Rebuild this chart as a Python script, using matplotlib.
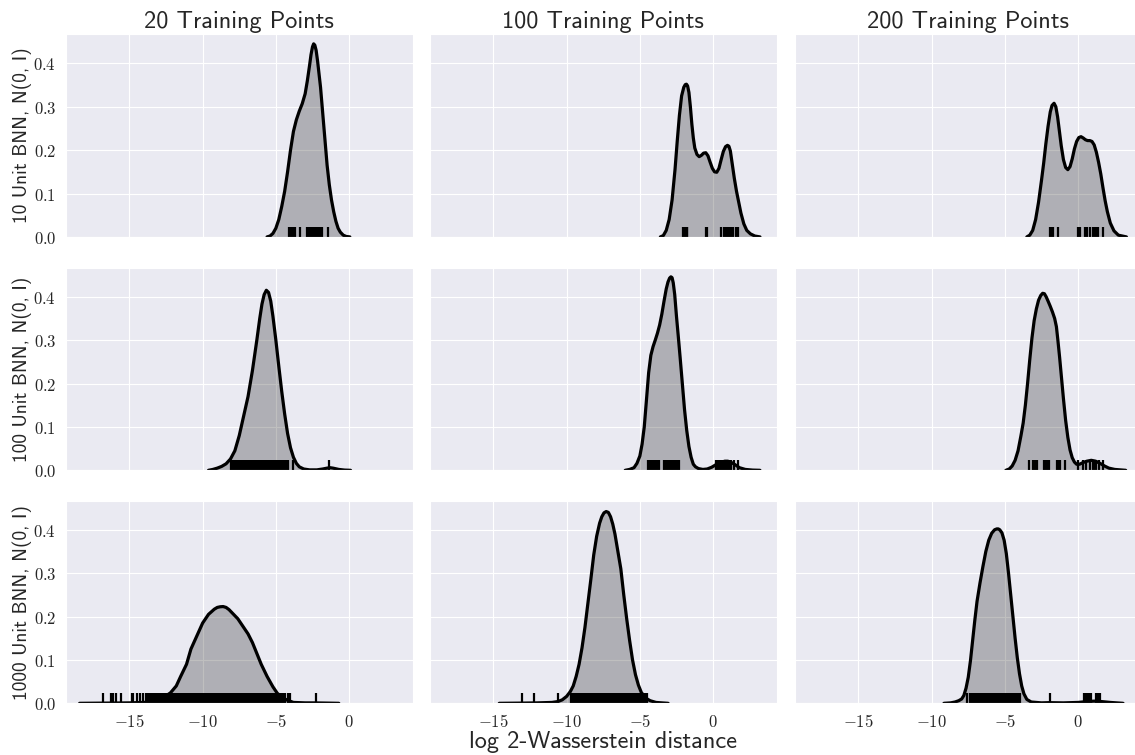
import matplotlib.pyplot as plt
from matplotlib.ticker import FuncFormatter
import seaborn as sns

sns.set_style("darkgrid")
plt.rcParams['mathtext.fontset'] = 'cm'

col_titles = ["20 Training Points", "100 Training Points", "200 Training Points"]
row_labels = ["10 Unit BNN, N(0, I)", "100 Unit BNN, N(0, I)", "1000 Unit BNN, N(0, I)"]
x_label = "log 2-Wasserstein distance"

# density curves: x = log W2 distance, y = density
# --- 10 unit BNN ---
x_10_20 = [-5.6, -5.4, -5.2, -5.0, -4.8, -4.6, -4.4, -4.2, -4.0, -3.8, -3.6, -3.4, -3.2, -3.0, -2.85,
           -2.7, -2.6, -2.5, -2.42, -2.34, -2.25, -2.15, -2.05, -1.95, -1.8, -1.65, -1.5, -1.35, -1.2,
           -1.05, -0.9, -0.75, -0.6, -0.4, -0.2, 0.05]
y_10_20 = [0.0, 0.002, 0.008, 0.02, 0.04, 0.07, 0.105, 0.15, 0.20, 0.243, 0.27, 0.29, 0.307, 0.33, 0.36,
           0.395, 0.42, 0.438, 0.445, 0.442, 0.43, 0.405, 0.375, 0.345, 0.285, 0.225, 0.165, 0.12, 0.085,
           0.058, 0.036, 0.02, 0.011, 0.004, 0.001, 0.0]
rug_10_20 = [-4.10, -4.01, -3.92, -3.83, -3.69, -3.33, -2.85, -2.76, -2.65, -2.55, -2.42, -2.28, -2.14,
             -1.96, -1.82, -1.44]

x_10_100 = [-3.6, -3.4, -3.2, -3.0, -2.8, -2.6, -2.45, -2.3, -2.15, -2.0, -1.9, -1.82, -1.74, -1.65,
            -1.55, -1.45, -1.35, -1.25, -1.1, -0.95, -0.8, -0.65, -0.5, -0.35, -0.2, -0.05, 0.1, 0.25,
            0.4, 0.55, 0.7, 0.85, 0.98, 1.08, 1.18, 1.3, 1.45, 1.6, 1.75, 1.9, 2.1, 2.3, 2.55, 2.85, 3.2]
y_10_100 = [0.0, 0.003, 0.015, 0.04, 0.085, 0.155, 0.22, 0.28, 0.325, 0.345, 0.351, 0.352, 0.348, 0.333,
            0.30, 0.26, 0.228, 0.205, 0.19, 0.185, 0.188, 0.193, 0.194, 0.187, 0.172, 0.158, 0.15, 0.149,
            0.158, 0.178, 0.197, 0.208, 0.211, 0.209, 0.198, 0.17, 0.135, 0.105, 0.08, 0.055, 0.03,
            0.015, 0.007, 0.002, 0.0]
rug_10_100 = [-2.05, -2.0, -1.95, -1.9, -1.85, -1.8, -1.75, -0.47, -0.43, 0.57, 0.72, 0.85, 0.95, 1.03,
              1.12, 1.2, 1.28, 1.36, 1.55, 1.73]

x_10_200 = [-3.5, -3.3, -3.1, -2.9, -2.7, -2.5, -2.35, -2.2, -2.05, -1.9, -1.78, -1.64, -1.52, -1.4,
            -1.28, -1.15, -1.0, -0.85, -0.7, -0.55, -0.4, -0.25, -0.1, 0.05, 0.2, 0.35, 0.5, 0.65, 0.8,
            0.95, 1.1, 1.25, 1.4, 1.55, 1.7, 1.85, 2.0, 2.2, 2.45, 2.75, 3.3]
y_10_200 = [0.0, 0.004, 0.015, 0.04, 0.08, 0.13, 0.17, 0.215, 0.255, 0.288, 0.303, 0.308, 0.30, 0.277,
            0.245, 0.21, 0.178, 0.16, 0.155, 0.162, 0.18, 0.203, 0.22, 0.229, 0.231, 0.228, 0.224, 0.222,
            0.222, 0.22, 0.212, 0.195, 0.172, 0.145, 0.113, 0.083, 0.058, 0.032, 0.014, 0.004, 0.0]
rug_10_200 = [-1.93, -1.8, -1.72, -1.34, -0.02, 0.16, 0.45, 0.64, 0.8, 1.02, 1.07, 1.2, 1.36, 1.7]

# --- 100 unit BNN ---
x_100_20 = [-9.6, -9.3, -9.0, -8.7, -8.4, -8.1, -7.8, -7.5, -7.2, -6.9, -6.6, -6.3, -6.1, -5.95, -5.8,
            -5.65, -5.5, -5.35, -5.2, -5.0, -4.8, -4.6, -4.4, -4.2, -4.0, -3.8, -3.6, -3.4, -3.1, -2.7,
            -2.2, -1.8, -1.5, -1.3, -1.1, -0.7, -0.3, 0.1]
y_100_20 = [0.0, 0.002, 0.005, 0.009, 0.015, 0.026, 0.045, 0.08, 0.125, 0.17, 0.23, 0.30, 0.35, 0.383,
            0.405, 0.415, 0.41, 0.39, 0.355, 0.30, 0.24, 0.182, 0.13, 0.085, 0.052, 0.03, 0.016, 0.008,
            0.003, 0.001, 0.001, 0.003, 0.005, 0.006, 0.005, 0.002, 0.0005, 0.0]
rug_100_20 = [-8.05, -7.95, -7.86, -7.77, -7.66, -7.58, -7.47, -7.38, -7.30, -7.20, -7.11, -7.02, -6.93,
              -6.84, -6.74, -6.66, -6.57, -6.46, -6.38, -6.29, -6.20, -6.10, -6.01, -5.92, -5.83, -5.74,
              -5.64, -5.55, -5.46, -5.37, -5.28, -5.18, -5.09, -5.00, -4.91, -4.82, -4.72, -4.63, -4.54,
              -4.45, -4.36, -4.27, -4.17, -3.83, -1.40]

x_100_100 = [-6.0, -5.7, -5.4, -5.2, -5.0, -4.85, -4.7, -4.55, -4.4, -4.25, -4.1, -3.95, -3.8, -3.65,
             -3.5, -3.35, -3.2, -3.08, -2.97, -2.88, -2.8, -2.72, -2.62, -2.5, -2.38, -2.25, -2.1, -1.95,
             -1.8, -1.65, -1.5, -1.35, -1.2, -1.0, -0.7, -0.4, -0.1, 0.2, 0.5, 0.8, 1.0, 1.2, 1.5, 1.8,
             2.2, 2.7, 3.2]
y_100_100 = [0.0, 0.002, 0.006, 0.016, 0.033, 0.06, 0.10, 0.162, 0.225, 0.265, 0.285, 0.30, 0.316, 0.335,
             0.36, 0.39, 0.418, 0.434, 0.443, 0.446, 0.444, 0.432, 0.405, 0.355, 0.31, 0.26, 0.20, 0.14,
             0.092, 0.055, 0.03, 0.014, 0.008, 0.004, 0.002, 0.003, 0.007, 0.013, 0.018, 0.021, 0.021,
             0.019, 0.013, 0.006, 0.002, 0.0005, 0.0]
rug_100_100 = [-4.47, -4.38, -4.30, -4.21, -4.12, -4.03, -3.94, -3.86, -3.66, -3.33, -3.24, -3.15, -3.06,
               -2.97, -2.88, -2.79, -2.70, -2.61, -2.52, -2.43, -2.34, 0.23, 0.36, 0.47, 0.58, 0.69,
               0.80, 0.90, 1.00, 1.10, 1.22, 1.40, 1.70]

x_100_200 = [-4.93, -4.7, -4.5, -4.3, -4.1, -3.9, -3.75, -3.6, -3.45, -3.3, -3.15, -3.0, -2.85, -2.7,
             -2.55, -2.42, -2.3, -2.18, -2.05, -1.9, -1.75, -1.6, -1.48, -1.38, -1.26, -1.14, -1.0, -0.85,
             -0.7, -0.55, -0.4, -0.25, -0.1, 0.1, 0.35, 0.6, 0.9, 1.2, 1.5, 1.8, 2.1, 2.5, 3.25]
y_100_200 = [0.0, 0.003, 0.01, 0.023, 0.045, 0.08, 0.109, 0.15, 0.20, 0.255, 0.305, 0.345, 0.372, 0.392,
             0.403, 0.408, 0.407, 0.40, 0.39, 0.378, 0.365, 0.35, 0.331, 0.30, 0.26, 0.216, 0.165, 0.115,
             0.076, 0.047, 0.029, 0.019, 0.014, 0.014, 0.018, 0.021, 0.023, 0.021, 0.016, 0.01, 0.005,
             0.002, 0.0]
rug_100_200 = [-3.34, -3.10, -3.02, -2.94, -2.86, -2.78, -2.34, -2.26, -2.18, -2.10, -2.02, -1.47, -1.39,
               -1.31, -1.23, -0.91, 0.02, 0.34, 0.55, 0.80, 1.00, 1.10, 1.25, 1.45, 1.70]

# --- 1000 unit BNN ---
x_1000_20 = [-18.4, -16.5, -15.0, -14.0, -13.4, -13.0, -12.6, -12.2, -11.8, -11.5, -11.1, -10.8, -10.4,
             -10.0, -9.6, -9.2, -9.0, -8.8, -8.6, -8.4, -8.2, -8.0, -7.6, -7.2, -6.9, -6.6, -6.3, -6.0,
             -5.6, -5.2, -4.9, -4.5, -4.2, -3.8, -3.0, -2.4, -1.5, -0.7]
y_1000_20 = [0.0, 0.0005, 0.001, 0.002, 0.005, 0.009, 0.015, 0.024, 0.04, 0.062, 0.09, 0.125, 0.155,
             0.185, 0.205, 0.217, 0.221, 0.2225, 0.223, 0.221, 0.216, 0.209, 0.195, 0.175, 0.16, 0.14,
             0.115, 0.09, 0.062, 0.038, 0.023, 0.012, 0.007, 0.002, 0.001, 0.001, 0.0005, 0.0]
rug_1000_20 = [-16.78, -16.25, -16.10, -15.93, -15.60, -14.84, -14.73, -14.50, -14.27, -14.04, -13.90,
               -13.75, -13.60, -13.50,
               -13.41, -13.32, -13.22, -13.13, -13.03, -12.94, -12.85, -12.74, -12.66, -12.55, -12.47,
               -12.36, -12.27, -12.18, -12.08, -11.99, -11.90, -11.80, -11.71, -11.62, -11.51, -11.43,
               -11.33, -11.24, -11.14, -11.05, -10.96, -10.86, -10.77, -10.68, -10.58, -10.49, -10.39,
               -10.30, -10.21, -10.11, -10.02, -9.93, -9.83, -9.74, -9.64, -9.55, -9.46, -9.36, -9.27,
               -9.18, -9.08, -8.99, -8.89, -8.80, -8.71, -8.61, -8.52, -8.43, -8.33, -8.24, -8.14,
               -8.05, -7.96, -7.86, -7.77, -7.68, -7.58, -7.49, -7.39, -7.30, -7.21, -7.11, -7.02,
               -6.93, -6.83, -6.74, -6.64, -6.55, -6.46, -6.36, -6.27, -6.18, -6.08, -5.99, -5.89,
               -5.80, -5.71, -5.61, -5.52, -5.43, -5.33, -5.24, -5.14, -5.05, -4.96, -4.86, -4.77,
               -4.68, -4.58, -4.49, -4.35, -4.20, -4.06, -2.28]

x_1000_100 = [-14.6, -13.0, -12.0, -11.0, -10.6, -10.3, -10.0, -9.75, -9.55, -9.35, -9.15, -8.95, -8.75,
              -8.55, -8.35, -8.15, -7.95, -7.75, -7.6, -7.45, -7.3, -7.15, -7.0, -6.85, -6.7, -6.5, -6.3,
              -6.1, -5.9, -5.7, -5.5, -5.3, -5.1, -4.9, -4.6, -4.3, -3.9, -3.5, -3.07]
y_1000_100 = [0.0, 0.0005, 0.001, 0.002, 0.004, 0.008, 0.016, 0.027, 0.04, 0.062, 0.09, 0.128, 0.175,
              0.23, 0.285, 0.342, 0.385, 0.415, 0.43, 0.439, 0.442, 0.44, 0.43, 0.413, 0.39, 0.35, 0.31,
              0.25, 0.195, 0.145, 0.10, 0.066, 0.042, 0.025, 0.012, 0.006, 0.002, 0.001, 0.0]
rug_1000_100 = [-13.07, -12.20, -10.57, -9.73,
                -9.62, -9.53, -9.43, -9.34, -9.24, -9.15, -9.06, -8.96, -8.87, -8.77, -8.68, -8.59,
                -8.49, -8.40, -8.30, -8.21, -8.12, -8.02, -7.93, -7.83, -7.74, -7.65, -7.55, -7.46,
                -7.36, -7.27, -7.18, -7.08, -6.99, -6.89, -6.80, -6.71, -6.61, -6.52, -6.42, -6.33,
                -6.24, -6.14, -6.05, -5.95, -5.86, -5.77, -5.67, -5.58, -5.48, -5.39, -5.30, -5.20,
                -5.11, -5.01, -4.92, -4.83, -4.75, -4.62, -4.52]

x_1000_200 = [-9.16, -8.7, -8.4, -8.15, -7.95, -7.8, -7.65, -7.5, -7.35, -7.2, -7.05, -6.9, -6.7, -6.5,
              -6.3, -6.1, -5.9, -5.7, -5.55, -5.45, -5.35, -5.2, -5.05, -4.9, -4.75, -4.6, -4.45, -4.3,
              -4.15, -4.0, -3.85, -3.7, -3.5, -3.2, -2.5, -2.0, -1.0, 0.0, 0.6, 1.1, 1.6, 2.2, 3.07]
y_1000_200 = [0.0, 0.001, 0.003, 0.006, 0.01, 0.018, 0.035, 0.06, 0.098, 0.145, 0.192, 0.235, 0.277,
              0.315, 0.35, 0.376, 0.392, 0.40, 0.402, 0.402, 0.40, 0.393, 0.376, 0.345, 0.30, 0.25, 0.20,
              0.15, 0.105, 0.068, 0.04, 0.022, 0.009, 0.003, 0.001, 0.0015, 0.001, 0.002, 0.004, 0.005,
              0.004, 0.002, 0.0]
rug_1000_200 = [-7.61, -7.40, -7.31, -7.21, -7.12, -7.02, -6.93, -6.84, -6.74, -6.65, -6.55, -6.46,
                -6.37, -6.27, -6.18, -6.08, -5.99, -5.90, -5.80, -5.71, -5.61, -5.52, -5.43, -5.33,
                -5.24, -5.14, -5.05, -4.96, -4.86, -4.77, -4.67, -4.58, -4.49, -4.39, -4.30, -4.20,
                -4.11, -4.00, -1.93, 0.41, 0.57, 0.68, 0.80, 0.91, 1.25, 1.36, 1.52]

panels = [
    [(x_10_20, y_10_20, rug_10_20), (x_10_100, y_10_100, rug_10_100), (x_10_200, y_10_200, rug_10_200)],
    [(x_100_20, y_100_20, rug_100_20), (x_100_100, y_100_100, rug_100_100), (x_100_200, y_100_200, rug_100_200)],
    [(x_1000_20, y_1000_20, rug_1000_20), (x_1000_100, y_1000_100, rug_1000_100), (x_1000_200, y_1000_200, rug_1000_200)],
]

W, H = 1135, 755
fig = plt.figure(figsize=(W / 100, H / 100), dpi=100)

col_left = [66, 430, 795]
ax_w = 346.5
row_top = [34.3, 267.7, 500.7]
ax_h = 202.6
text_col = '#262626'

for r in range(3):
    for c in range(3):
        ax = fig.add_axes([col_left[c] / W, 1 - (row_top[r] + ax_h) / H, ax_w / W, ax_h / H])
        xs, ys, rug = panels[r][c]
        ax.fill_between(xs, ys, color='k', alpha=0.25, lw=0)
        ax.plot(xs, ys, color='k', lw=2.3, solid_joinstyle='round')
        ax.vlines(rug, 0, 0.05, transform=ax.get_xaxis_transform(), colors='k', lw=1.6)
        ax.set_xlim(-19.33, 4.33)
        ax.set_ylim(0, 0.467)
        ax.set_xticks([-15, -10, -5, 0])
        ax.set_yticks([0.0, 0.1, 0.2, 0.3, 0.4])
        ax.xaxis.set_major_formatter(FuncFormatter(lambda v, p: '$%g$' % v))
        ax.yaxis.set_major_formatter(FuncFormatter(lambda v, p: '$%.1f$' % v))
        ax.tick_params(length=0, pad=7, labelsize=12, labelcolor=text_col,
                       labelleft=(c == 0), labelbottom=(r == 2))
        if r == 0:
            fig.text((col_left[c] + ax_w / 2) / W, 1 - 28 / H, col_titles[c], family='cmss10',
                     fontsize=17.5, color=text_col, ha='center', va='baseline')
    fig.text(22 / W, 1 - (row_top[r] + ax_h / 2) / H, row_labels[r], family='cmss10', fontsize=14,
             color=text_col, rotation=90, ha='center', va='center')

fig.text((col_left[1] + ax_w / 2) / W, 1 - 748 / H, x_label, family='cmss10', fontsize=17.5,
         color=text_col, ha='center', va='baseline')

fig.savefig('out.png', dpi=100)
